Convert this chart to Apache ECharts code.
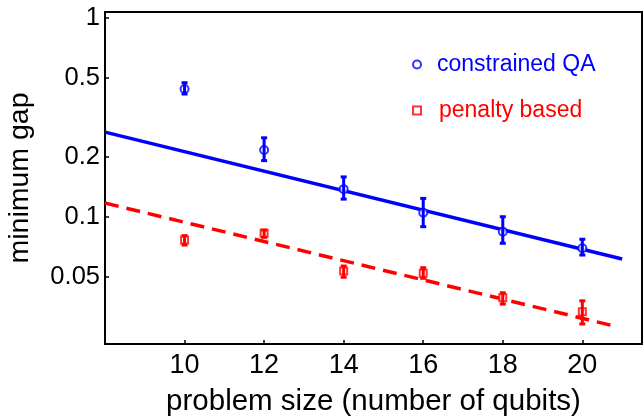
<!DOCTYPE html>
<html>
<head>
<meta charset="utf-8">
<script src="https://cdn.jsdelivr.net/npm/echarts@6/dist/echarts.min.js"></script>
<style>
html,body{margin:0;padding:0;background:#fff;}
#chart{width:644px;height:417px;}
</style>
</head>
<body>
<div id="chart"></div>
<script>
// ---- data ----
const sizes = [10, 12, 14, 16, 18, 20];
const cqaGap = [0.44, 0.217, 0.138, 0.105, 0.0844, 0.0696];
const cqaLo  = [0.415, 0.192, 0.123, 0.0894, 0.0738, 0.0644];
const cqaHi  = [0.473, 0.25, 0.159, 0.124, 0.1003, 0.0773];
const penGap = [0.0766, 0.0828, 0.0535, 0.0521, 0.0393, 0.0334];
const penLo  = [0.0723, 0.079, 0.0498, 0.0492, 0.0365, 0.029];
const penHi  = [0.0806, 0.086, 0.0567, 0.0556, 0.0416, 0.0379];
const cqaFitX = [8, 21];
const cqaFit  = [0.267, 0.0615];
const penFitX = [8, 20.9];
const penFit  = [0.1175, 0.028];
const xTicks = [10, 12, 14, 16, 18, 20];
const yTicks = [0.05, 0.1, 0.2, 0.5, 1];

const BLUE = '#0000ff', RED = '#ff0000';
const FONT = 'Liberation Sans, Arial, sans-serif';

function pairs(xs, ys) { return xs.map((x, i) => [x, ys[i]]); }
function errData(xs, lo, hi) { return xs.map((x, i) => [x, lo[i], hi[i]]); }

function errRender(color) {
  return function (params, api) {
    const x = api.value(0);
    const pLo = api.coord([x, api.value(1)]);
    const pHi = api.coord([x, api.value(2)]);
    const hw = 3;
    const style = { stroke: color, lineWidth: 3 };
    return {
      type: 'group',
      children: [
        { type: 'line', shape: { x1: pLo[0], y1: pLo[1], x2: pHi[0], y2: pHi[1] }, style: style },
        { type: 'line', shape: { x1: pLo[0] - hw, y1: pLo[1], x2: pLo[0] + hw, y2: pLo[1] }, style: style },
        { type: 'line', shape: { x1: pHi[0] - hw, y1: pHi[1], x2: pHi[0] + hw, y2: pHi[1] }, style: style }
      ]
    };
  };
}

const chart = echarts.init(document.getElementById('chart'), null, { renderer: 'canvas' });
chart.setOption({
  animation: false,
  backgroundColor: '#fff',
  grid: {
    left: 105, right: 2, top: 12, bottom: 73,
    containLabel: false,
    outerBoundsMode: 'none',
    show: true, borderColor: '#000', borderWidth: 2, backgroundColor: 'transparent'
  },
  legend: {
    orient: 'vertical',
    left: 412, top: 53,
    padding: 0,
    itemWidth: 8, itemHeight: 8,
    itemGap: 23,
    textStyle: { fontFamily: FONT, fontSize: 23 },
    data: [
      { name: 'constrained QA', icon: 'emptyCircle', itemStyle: { color: BLUE, borderColor: BLUE, borderWidth: 1 }, textStyle: { color: BLUE, padding: [0, 0, 0, 11] } },
      { name: 'penalty based', icon: 'emptyRect', itemStyle: { color: RED, borderColor: RED, borderWidth: 1 }, textStyle: { color: RED, padding: [0, 0, 0, 13] } }
    ]
  },
  xAxis: {
    type: 'value',
    min: 8, max: 21.5,
    name: 'problem size (number of qubits)',
    nameLocation: 'middle',
    nameGap: 43,
    nameTextStyle: { fontFamily: FONT, fontSize: 29.5, color: '#000' },
    axisLine: { show: true, lineStyle: { color: '#000', width: 2 } },
    axisTick: { show: true, inside: true, length: 4, lineStyle: { color: '#000', width: 1.5 }, customValues: xTicks },
    axisLabel: { fontFamily: FONT, fontSize: 27, color: '#000', margin: 8, customValues: xTicks },
    splitLine: { show: false }
  },
  yAxis: {
    type: 'log',
    logBase: 10,
    min: 0.023, max: 1.072,
    name: 'minimum gap',
    nameLocation: 'middle',
    nameGap: 70,
    nameTextStyle: { fontFamily: FONT, fontSize: 28.5, color: '#000' },
    axisLine: { show: true, lineStyle: { color: '#000', width: 2 } },
    axisTick: { show: true, inside: true, length: 4, lineStyle: { color: '#000', width: 1.5 }, customValues: yTicks },
    axisLabel: {
      fontFamily: FONT, fontSize: 25.5, color: '#000', margin: 5, customValues: yTicks,
      formatter: function (v) { return String(+v.toPrecision(3)); }
    },
    splitLine: { show: false },
    minorTick: { show: false }
  },
  series: [
    {
      name: 'cqa fit', type: 'line', data: pairs(cqaFitX, cqaFit),
      symbol: 'none', lineStyle: { color: BLUE, width: 3.5 }, z: 2, silent: true
    },
    {
      name: 'penalty fit', type: 'line', data: pairs(penFitX, penFit),
      symbol: 'none', lineStyle: { color: RED, width: 3.5, type: [14, 8] }, z: 2, silent: true
    },
    {
      name: 'constrained QA', type: 'scatter', data: pairs(sizes, cqaGap),
      symbol: 'emptyCircle', symbolSize: 8,
      itemStyle: { color: BLUE, borderColor: BLUE, borderWidth: 1 }, z: 3
    },
    {
      name: 'penalty based', type: 'scatter', data: pairs(sizes, penGap),
      symbol: 'emptyRect', symbolSize: 7,
      itemStyle: { color: RED, borderColor: RED, borderWidth: 1 }, z: 3
    },
    {
      name: 'cqa err', type: 'custom', data: errData(sizes, cqaLo, cqaHi),
      renderItem: errRender(BLUE), encode: { x: 0, y: [1, 2] }, z: 4, silent: true
    },
    {
      name: 'pen err', type: 'custom', data: errData(sizes, penLo, penHi),
      renderItem: errRender(RED), encode: { x: 0, y: [1, 2] }, z: 4, silent: true
    }
  ]
});
</script>
</body>
</html>
